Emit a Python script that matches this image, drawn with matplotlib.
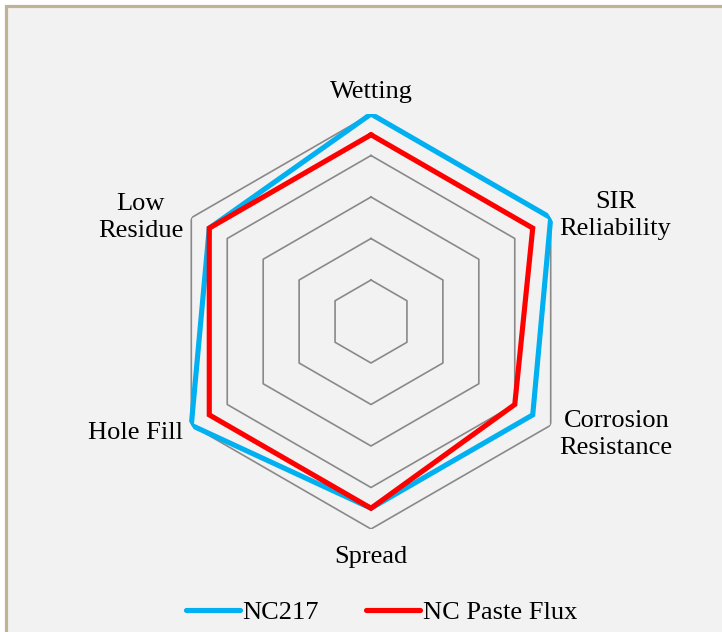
import numpy as np
import matplotlib
matplotlib.use("Agg")
import matplotlib.pyplot as plt
from matplotlib.patches import Rectangle

plt.rcParams["font.family"] = ["Liberation Serif", "DejaVu Serif"]
plt.rcParams["font.size"] = 19

categories = ["Wetting", "SIR\nReliability", "Corrosion\nResistance", "Spread", "Hole Fill", "Low\nResidue"]
nc217 = [5, 5, 4.5, 4.5, 5, 4.5]
nc_paste = [4.5, 4.5, 4, 4.5, 4.5, 4.5]
ring_levels = [1, 2, 3, 4, 5]

# label offsets in pixels from the outer vertex, and alignment
label_pos = [
    ((0, 22), "center"),
    ((9, 2), "left"),
    ((9, -9), "left"),
    ((0, -28), "center"),
    ((-8, -8), "right"),
    ((-8, 0), "right"),
]

fig = plt.figure(figsize=(7.22, 6.32), dpi=100)
fig.patch.set_facecolor("white")
fig.patches.append(Rectangle((6 / 722, -0.1), 2, (632 - 6) / 632 + 0.1,
                             transform=fig.transFigure, facecolor="#F2F2F2",
                             edgecolor="#BFB396", lw=2.3, zorder=-5))

ax = fig.add_axes([163.5 / 722, 103 / 632, 415 / 722, 415 / 632], projection="polar")
ax.set_facecolor("none")
ax.set_theta_offset(np.pi / 2)
ax.set_theta_direction(-1)
ax.set_ylim(0, 5)
ax.grid(False)
ax.spines["polar"].set_visible(False)
ax.set_xticks([])
ax.set_yticks([])

theta = np.linspace(0, 2 * np.pi, len(categories), endpoint=False)
theta_c = np.append(theta, theta[0])

for lvl in ring_levels:
    ax.plot(theta_c, [lvl] * len(theta_c), color="#898989", lw=1.2, zorder=1)

ax.plot(theta_c, nc217 + nc217[:1], color="#00B0F0", lw=3.7, label="NC217",
        solid_joinstyle="miter", solid_capstyle="round", zorder=3)
ax.plot(theta_c, nc_paste + nc_paste[:1], color="#FF0000", lw=3.7, label="NC Paste Flux",
        solid_joinstyle="miter", solid_capstyle="round", zorder=4)

for t, lab, (off, ha) in zip(theta, categories, label_pos):
    ax.annotate(lab, xy=(t, 5), xytext=off, textcoords="offset pixels",
                ha=ha, va="center", multialignment="center", color="black",
                linespacing=1.3, annotation_clip=False)

fig.legend(loc="center", bbox_to_anchor=(381.5 / 722, 20 / 632), ncol=2, frameon=False,
           handlelength=2.05, handletextpad=0.1, columnspacing=1.8)

fig.savefig("out.png", dpi=100, facecolor=fig.get_facecolor())
